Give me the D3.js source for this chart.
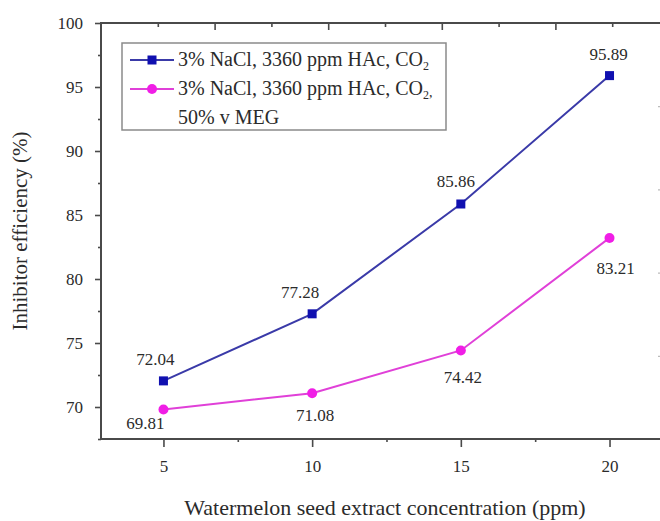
<!DOCTYPE html>
<html>
<head>
<meta charset="utf-8">
<script src="https://cdn.jsdelivr.net/npm/d3@7/dist/d3.min.js"></script>
<style>
  html, body { margin: 0; padding: 0; background: #fff; }
  svg { display: block; }
  text { font-family: "Liberation Serif", "Times New Roman", "DejaVu Serif", serif; fill: #2b2b2b; }
</style>
</head>
<body>
<svg id="chart" width="660" height="521"></svg>
<script>
// Inhibitor efficiency vs. watermelon seed extract concentration
const concentrations = [5, 10, 15, 20];
const efficiencyCO2 = [72.04, 77.28, 85.86, 95.89];
const efficiencyMEG = [69.81, 71.08, 74.42, 83.21];
const xTicks = [5, 10, 15, 20];
const yTicks = [70, 75, 80, 85, 90, 95, 100];
const seriesNames = [
  ["3% NaCl, 3360 ppm HAc, CO", "2", ""],
  ["3% NaCl, 3360 ppm HAc, CO", "2", ","]
];
// value label offsets (dx, dy) relative to each point
const labelOffsetsCO2 = [[-8, -16], [-12, -16], [-5, -17], [-1, -16]];
const labelOffsetsMEG = [[-18, 20], [3, 28], [2, 33], [6, 36]];

const serif = '"Liberation Serif", "Times New Roman", serif';
const svg = d3.select("#chart");
const frame = { left: 101, top: 23, right: 669, bottom: 439 };

const x = d3.scaleLinear().domain([2.9, 22]).range([frame.left, frame.right]);
const y = d3.scaleLinear().domain([67.5, 100]).range([frame.bottom, frame.top]);
// mirror axes carry their own evenly spaced ticks
const xTop = d3.scaleLinear().domain([0, 10]).range([frame.left, frame.right]);
const yRight = d3.scaleLinear().domain([0, 10]).range([frame.bottom, frame.top]);

const axisColor = "#4a4a4a";

function styleAxis(g) {
  g.attr("font-family", serif);
  g.select(".domain").remove();
  g.selectAll("line").attr("stroke", axisColor).attr("stroke-width", 1.6);
  g.selectAll("text")
    .style("font-family", serif)
    .style("font-size", "17px")
    .attr("fill", "#2b2b2b");
}

// minor ticks
const yMinor = [70, 75, 80, 85, 90, 95].map(v => v - 2.5).concat([97.5]).filter((v, i, a) => a.indexOf(v) === i);
const xMinor = [7.5, 12.5, 17.5];

svg.append("g")
  .attr("transform", `translate(${frame.left},0)`)
  .call(d3.axisLeft(y).tickValues(yMinor).tickSize(3).tickFormat(""))
  .call(styleAxis);
svg.append("g")
  .attr("transform", `translate(${frame.left},0)`)
  .call(d3.axisLeft(y).tickValues(yTicks).tickSize(6).tickPadding(12).tickFormat(d3.format("d")))
  .call(styleAxis);

svg.append("g")
  .attr("transform", `translate(0,${frame.bottom})`)
  .call(d3.axisBottom(x).tickValues(xMinor).tickSize(3).tickFormat(""))
  .call(styleAxis);
svg.append("g")
  .attr("transform", `translate(0,${frame.bottom})`)
  .call(d3.axisBottom(x).tickValues(xTicks).tickSize(8).tickPadding(13).tickFormat(d3.format("d")))
  .call(styleAxis);

// top mirror axis (inward ticks)
svg.append("g")
  .attr("transform", `translate(0,${frame.top})`)
  .call(d3.axisBottom(xTop).tickValues([1, 3, 5, 7, 9]).tickSize(4).tickFormat(""))
  .call(styleAxis);
svg.append("g")
  .attr("transform", `translate(0,${frame.top})`)
  .call(d3.axisBottom(xTop).tickValues([2, 4, 6, 8]).tickSize(7).tickFormat(""))
  .call(styleAxis);

// right mirror axis (inward ticks)
svg.append("g")
  .attr("transform", `translate(${frame.right},0)`)
  .call(d3.axisLeft(yRight).tickValues([2, 4, 6, 8]).tickSize(11).tickFormat(""))
  .call(g => { g.select(".domain").remove(); g.selectAll("line").attr("stroke", "#bbb").attr("stroke-width", 1.2); });

// frame
svg.append("rect")
  .attr("x", frame.left).attr("y", frame.top)
  .attr("width", frame.right - frame.left).attr("height", frame.bottom - frame.top)
  .attr("fill", "none").attr("stroke", axisColor).attr("stroke-width", 2);

// axis titles
svg.append("text")
  .attr("x", (frame.left + frame.right) / 2).attr("y", 515)
  .attr("text-anchor", "middle").style("font-size", "22px")
  .text("Watermelon seed extract concentration (ppm)");
svg.append("text")
  .attr("transform", `translate(27,${(frame.top + frame.bottom) / 2}) rotate(-90)`)
  .attr("text-anchor", "middle").style("font-size", "21px")
  .text("Inhibitor efficiency (%)");

const blue = "#1010b0", blueLine = "#3a3aa8";
const pink = "#f01ee6", pinkLine = "#e040d8";

const line = d3.line().x(d => x(d[0])).y(d => y(d[1]));
const ptsCO2 = concentrations.map((c, i) => [c, efficiencyCO2[i]]);
const ptsMEG = concentrations.map((c, i) => [c, efficiencyMEG[i]]);

svg.append("path").datum(ptsMEG).attr("d", line)
  .attr("fill", "none").attr("stroke", pinkLine).attr("stroke-width", 2);
svg.append("path").datum(ptsCO2).attr("d", line)
  .attr("fill", "none").attr("stroke", blueLine).attr("stroke-width", 2);

svg.selectAll(".sq").data(ptsCO2).join("rect")
  .attr("x", d => x(d[0]) - 4.5).attr("y", d => y(d[1]) - 4.5)
  .attr("width", 9).attr("height", 9).attr("fill", blue);
svg.selectAll(".ci").data(ptsMEG).join("circle")
  .attr("cx", d => x(d[0])).attr("cy", d => y(d[1])).attr("r", 5).attr("fill", pink);

// value labels
svg.selectAll(".lblA").data(ptsCO2).join("text")
  .attr("x", (d, i) => x(d[0]) + labelOffsetsCO2[i][0])
  .attr("y", (d, i) => y(d[1]) + labelOffsetsCO2[i][1])
  .attr("text-anchor", "middle").style("font-size", "17px")
  .text(d => d[1].toFixed(2));
svg.selectAll(".lblB").data(ptsMEG).join("text")
  .attr("x", (d, i) => x(d[0]) + labelOffsetsMEG[i][0])
  .attr("y", (d, i) => y(d[1]) + labelOffsetsMEG[i][1])
  .attr("text-anchor", "middle").style("font-size", "17px")
  .text(d => d[1].toFixed(2));

// legend
const lg = svg.append("g");
lg.append("rect").attr("x", 122).attr("y", 43).attr("width", 324).attr("height", 87)
  .attr("fill", "#fff").attr("stroke", "#8a8a8a").attr("stroke-width", 1.5);
const legendItems = [
  { name: seriesNames[0], color: blue, lineColor: blueLine, shape: "square", yy: 60 },
  { name: seriesNames[1], color: pink, lineColor: pinkLine, shape: "circle", yy: 89 }
];
legendItems.forEach(it => {
  lg.append("line").attr("x1", 130).attr("x2", 174).attr("y1", it.yy).attr("y2", it.yy)
    .attr("stroke", it.lineColor).attr("stroke-width", 2);
  if (it.shape === "square") {
    lg.append("rect").attr("x", 152 - 4.5).attr("y", it.yy - 4.5).attr("width", 9).attr("height", 9).attr("fill", it.color);
  } else {
    lg.append("circle").attr("cx", 152).attr("cy", it.yy).attr("r", 5).attr("fill", it.color);
  }
  const t = lg.append("text").attr("x", 178).attr("y", it.yy + 6).style("font-size", "20px");
  t.append("tspan").text(it.name[0]);
  t.append("tspan").attr("dy", 4).style("font-size", "12px").text(it.name[1]);
  if (it.name[2]) t.append("tspan").attr("dy", -2).style("font-size", "14px").text(it.name[2]);
});
lg.append("text").attr("x", 178).attr("y", 124).style("font-size", "20px").text("50% v MEG");
</script>
</body>
</html>
